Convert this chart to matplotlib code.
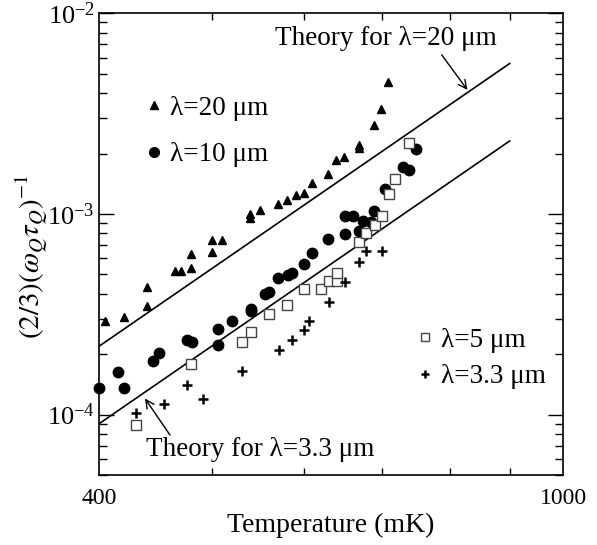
import matplotlib.pyplot as plt
from matplotlib.ticker import FixedLocator, NullFormatter, LogLocator
from matplotlib.lines import Line2D

plt.rcParams['font.family'] = ['Liberation Serif', 'DejaVu Serif']
plt.rcParams['mathtext.fontset'] = 'stix'

# lambda = 20 um (triangles)
t20 = [405, 420, 440, 440, 465, 470, 480, 480, 500, 500, 510, 539, 539, 550,
       570, 580, 590, 600, 609, 629, 639, 649, 668, 668, 688, 698, 708]
q20 = [2.92e-4, 3.06e-4, 3.47e-4, 4.31e-4, 5.18e-4, 5.18e-4, 5.38e-4, 6.35e-4,
       6.47e-4, 7.39e-4, 7.39e-4, 1.0e-3, 9.6e-4, 1.05e-3, 1.12e-3, 1.17e-3,
       1.25e-3, 1.27e-3, 1.43e-3, 1.59e-3, 1.86e-3, 1.92e-3, 2.12e-3, 2.21e-3,
       2.78e-3, 3.34e-3, 4.52e-3]

# lambda = 10 um (circles)
t10 = [400, 415, 420, 445, 450, 476, 481, 506, 506, 520, 540, 540, 555, 560,
       570, 581, 585, 600, 609, 629, 650, 650, 660, 668, 674, 684, 688, 704,
       729, 738, 748]
q10 = [1.35e-4, 1.63e-4, 1.35e-4, 1.86e-4, 2.02e-4, 2.35e-4, 2.30e-4, 2.67e-4,
       2.21e-4, 2.94e-4, 3.36e-4, 3.28e-4, 3.97e-4, 4.09e-4, 4.80e-4, 4.95e-4,
       5.05e-4, 5.66e-4, 6.40e-4, 7.51e-4, 7.98e-4, 9.73e-4, 9.73e-4, 8.26e-4,
       9.21e-4, 9.12e-4, 1.03e-3, 1.33e-3, 1.72e-3, 1.66e-3, 2.11e-3]

# lambda = 5 um (open squares)
t5 = [430, 480, 530, 540, 560, 580, 600, 620, 630, 640, 640, 668, 678, 690,
      699, 709, 718, 738]
q5 = [8.92e-5, 1.79e-4, 2.30e-4, 2.57e-4, 3.17e-4, 3.50e-4, 4.22e-4, 4.22e-4,
      4.62e-4, 4.62e-4, 5.08e-4, 7.24e-4, 8.04e-4, 8.80e-4, 9.80e-4, 1.26e-3,
      1.49e-3, 2.27e-3]

# lambda = 3.3 um (plus)
t33 = [430, 455, 476, 491, 530, 571, 585, 600, 605, 630, 650, 668, 678, 700]
q33 = [1.015e-4, 1.13e-4, 1.41e-4, 1.20e-4, 1.64e-4, 2.09e-4, 2.35e-4,
       2.64e-4, 2.94e-4, 3.65e-4, 4.57e-4, 5.74e-4, 6.55e-4, 6.55e-4]

# theory lines (T^4 power law, straight on log-log)
theory_t = [400, 900]
theory_20 = [2.19e-4, 5.62e-3]
theory_33 = [9.0e-5, 2.31e-3]

fig = plt.figure(figsize=(5.97, 5.45), dpi=100)
ax = fig.add_axes([99 / 597, 70 / 545, 464 / 597, 461.7 / 545])
ax.set_xscale('log')
ax.set_yscale('log')
ax.set_xlim(400, 1000)
ax.set_ylim(5e-5, 1e-2)

ax.plot(theory_t, theory_20, color='black', lw=1.2)
ax.plot(theory_t, theory_33, color='black', lw=1.2)

ax.plot(t20, q20, ls='none', marker='^', ms=6, color='black', clip_on=False)
ax.plot(t10, q10, ls='none', marker='o', ms=7.5, color='black', clip_on=False)
ax.plot(t5, q5, ls='none', marker='s', ms=7, mfc='white', mec='#444444',
        mew=1.0, clip_on=False)
ax.plot(t33, q33, ls='none', marker='+', ms=7, mew=1.8, color='black',
        clip_on=False)

# ticks
ax.xaxis.set_major_locator(FixedLocator([400, 1000]))
ax.xaxis.set_major_formatter(plt.FixedFormatter(['400', '1000']))
ax.xaxis.set_minor_locator(FixedLocator([500, 600, 700, 800, 900]))
ax.xaxis.set_minor_formatter(NullFormatter())
ax.yaxis.set_major_locator(LogLocator(base=10, numticks=10))
ax.yaxis.set_minor_locator(LogLocator(base=10, subs=range(2, 10), numticks=20))
ax.yaxis.set_minor_formatter(NullFormatter())

ax.tick_params(which='both', direction='in', top=True, right=True, width=1)
ax.tick_params(axis='y', which='major', length=11, pad=3, labelsize=19)
ax.tick_params(axis='y', which='minor', length=6)
ax.tick_params(axis='x', which='major', length=0, pad=9, labelsize=17)
ax.tick_params(axis='x', which='minor', length=5)
for s in ax.spines.values():
    s.set_linewidth(1.2)

ax.set_xlabel('Temperature (mK)', fontsize=20, labelpad=3)
ax.set_ylabel(r'$(2/3)(\omega_Q\tau_Q)^{-1}$', fontsize=21)
ax.yaxis.set_label_coords(-0.105, 0.472)

# annotations
ax.text(0.6185, 0.9465, 'Theory for λ=20 μm', transform=ax.transAxes,
        ha='center', va='center', fontsize=19.5)
ax.annotate('', xy=(0.794, 0.834), xytext=(0.7386, 0.91),
            xycoords='axes fraction', textcoords='axes fraction',
            arrowprops=dict(arrowstyle='->,head_length=0.6,head_width=0.3',
                            lw=1, color='black', shrinkA=0, shrinkB=0))
ax.text(0.347, 0.0544, 'Theory for λ=3.3 μm', transform=ax.transAxes,
        ha='center', va='center', fontsize=19.5)
ax.annotate('', xy=(0.0991, 0.1657), xytext=(0.153, 0.0866),
            xycoords='axes fraction', textcoords='axes fraction',
            arrowprops=dict(arrowstyle='->,head_length=0.6,head_width=0.3',
                            lw=1, color='black', shrinkA=0, shrinkB=0))

# legends
h20 = Line2D([], [], ls='none', marker='^', ms=5.5, color='black')
h10 = Line2D([], [], ls='none', marker='o', ms=7, color='black')
h5 = Line2D([], [], ls='none', marker='s', ms=5.5, mfc='white', mec='#444444', mew=1.0)
h33 = Line2D([], [], ls='none', marker='+', ms=5.5, mew=1.8, color='black')

leg1 = ax.legend([h20, h10], ['λ=20 μm', 'λ=10 μm'], loc='upper left',
                 bbox_to_anchor=(0.101, 0.821), frameon=False, fontsize=19.5,
                 borderpad=0, borderaxespad=0, handlelength=0.6,
                 handletextpad=0.3, labelspacing=0.78)
ax.add_artist(leg1)
ax.legend([h5, h33], ['λ=5 μm', 'λ=3.3 μm'], loc='upper left',
          bbox_to_anchor=(0.685, 0.319), frameon=False, fontsize=19.5,
          borderpad=0, borderaxespad=0, handlelength=0.6,
          handletextpad=0.3, labelspacing=0.42)

fig.savefig('out.png', dpi=100)
